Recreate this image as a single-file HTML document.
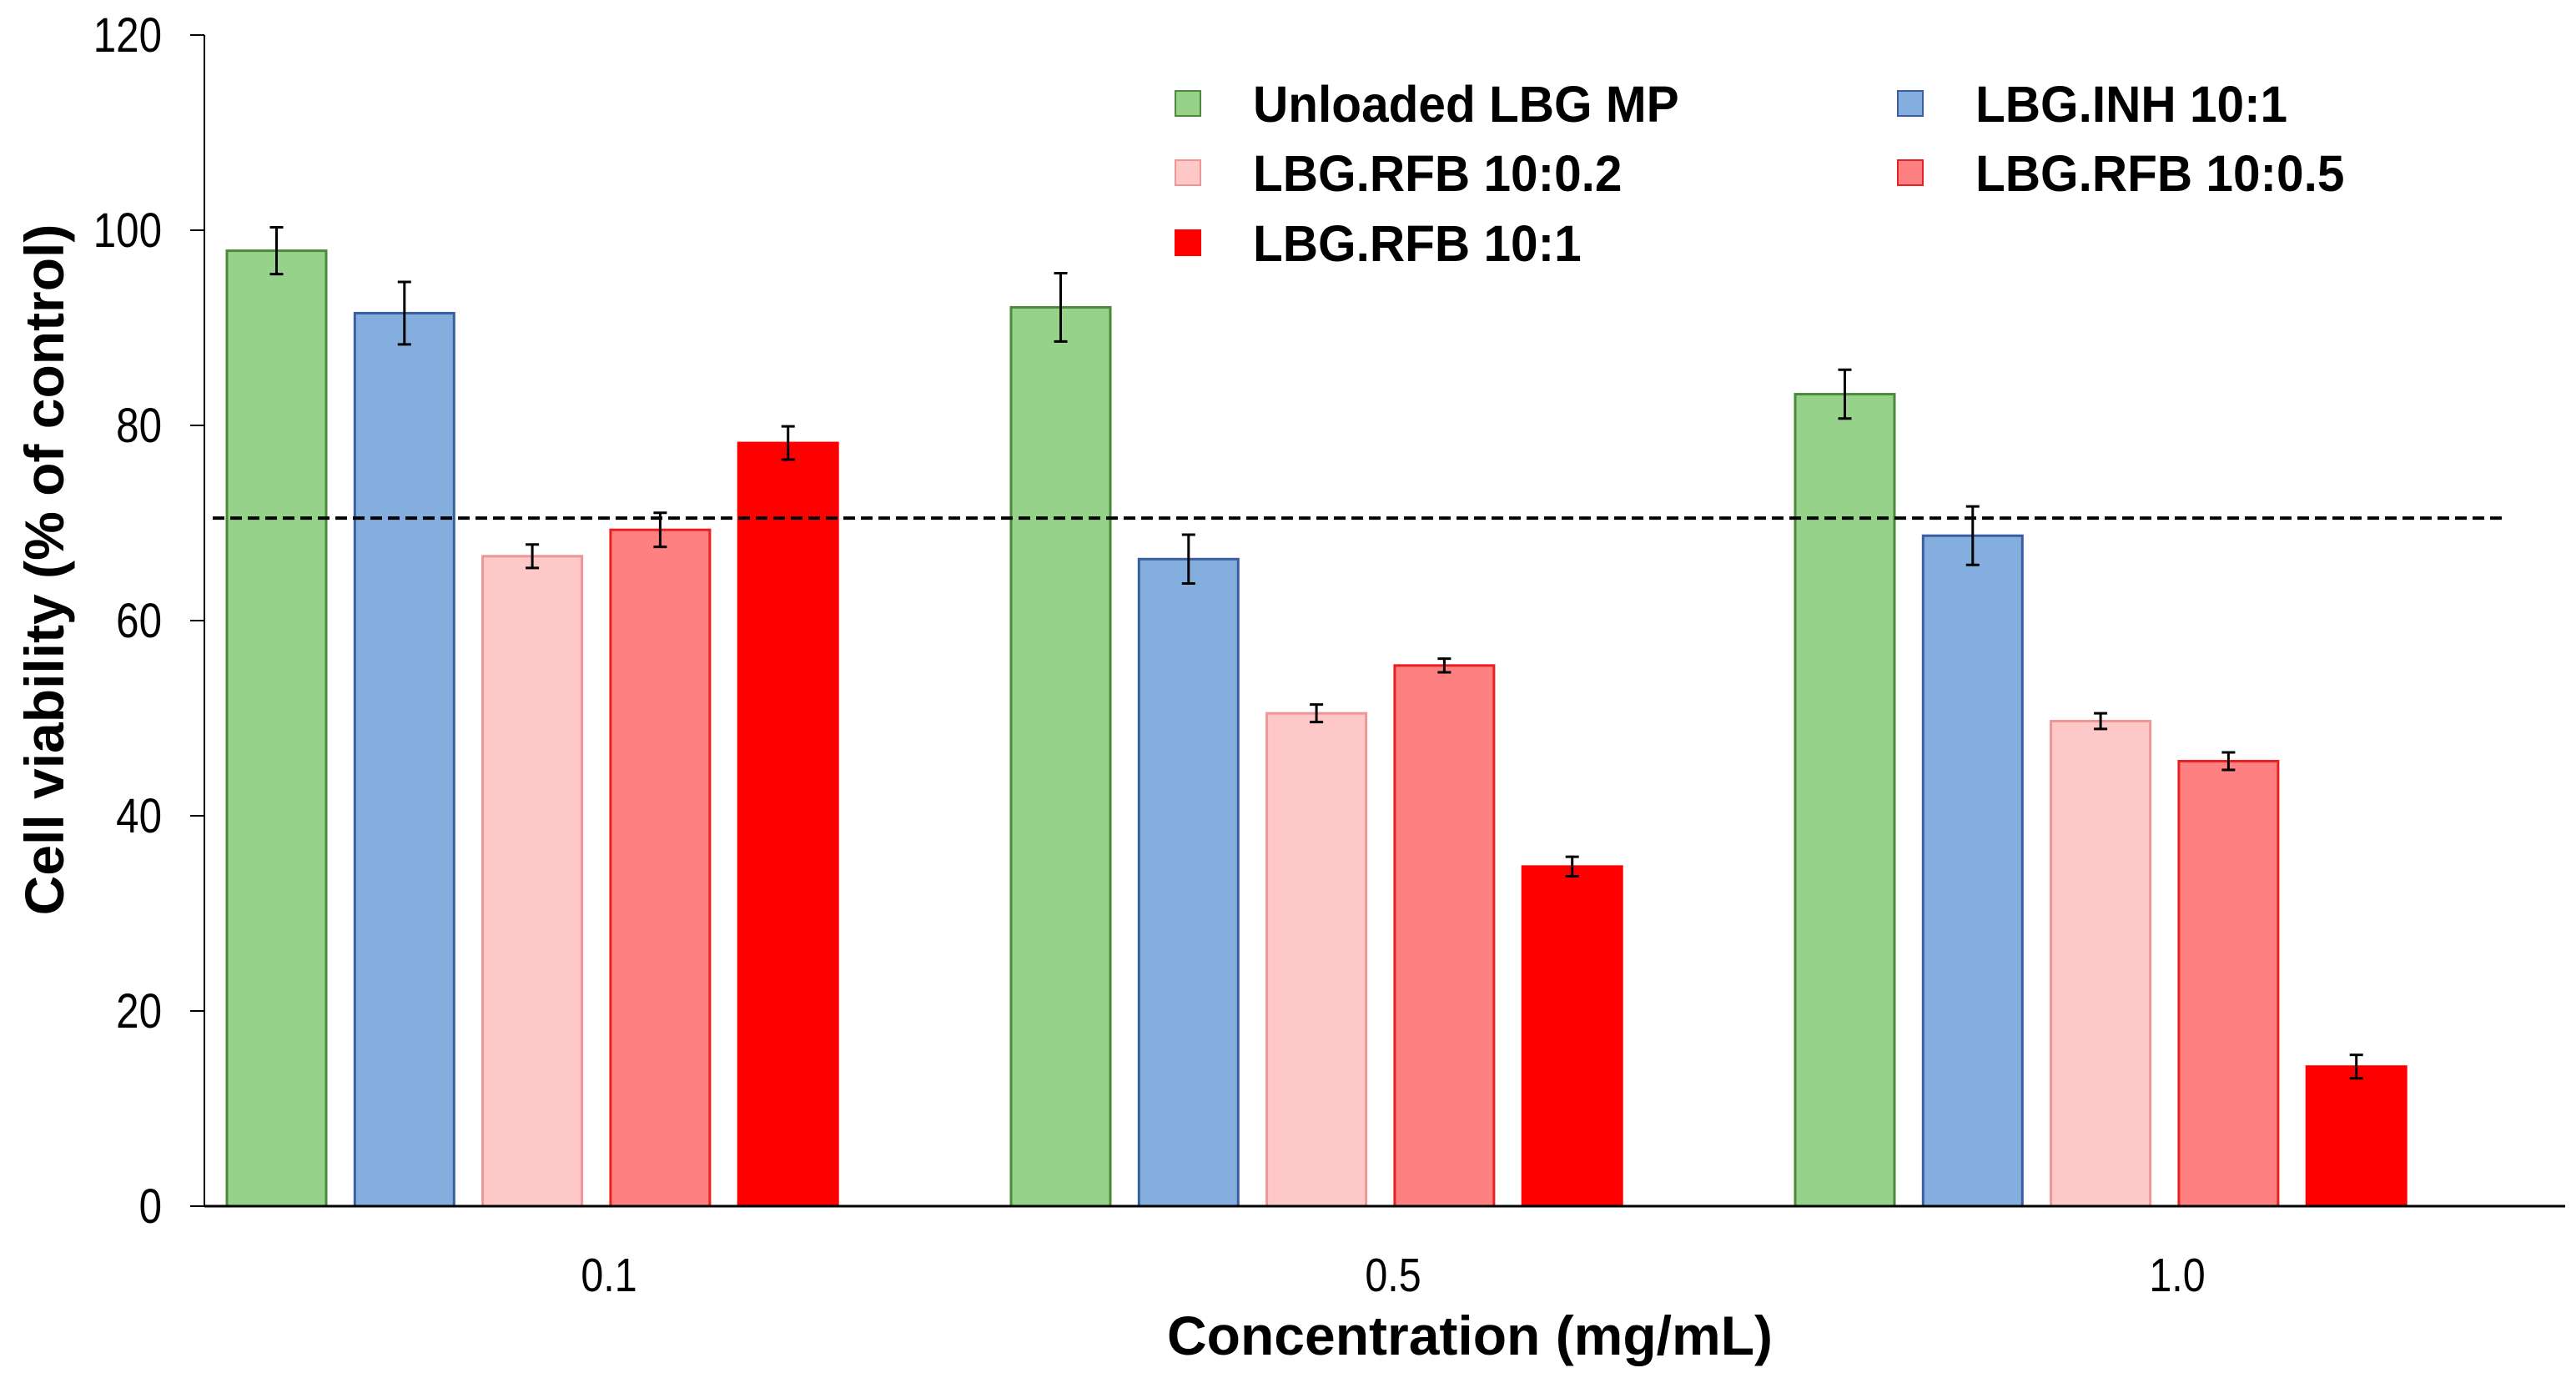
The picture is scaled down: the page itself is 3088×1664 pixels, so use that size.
<!DOCTYPE html>
<html><head><meta charset="utf-8"><style>
html,body{margin:0;padding:0;background:#fff;}
svg{display:block;font-family:"Liberation Sans",Arial,sans-serif;}
</style></head><body>
<svg id="chart" width="3088" height="1664" viewBox="0 0 3088 1664" xmlns="http://www.w3.org/2000/svg">
<g id="grid"></g>
<g id="bars"></g>
<g id="axes"></g>
<g id="legend"></g>
<text x="0" y="0" transform="translate(76,683) rotate(-90)" text-anchor="middle" font-size="66" font-weight="bold">Cell viability (% of control)</text>
<text x="1762" y="1624" text-anchor="middle" font-size="66" font-weight="bold">Concentration (mg/mL)</text>
</svg>
<script>
const categories = ["0.1", "0.5", "1.0"];
const seriesNames = ["Unloaded LBG MP", "LBG.INH 10:1", "LBG.RFB 10:0.2", "LBG.RFB 10:0.5", "LBG.RFB 10:1"];
const unloaded = [97.9, 92.1, 83.2];
const inh = [91.5, 66.3, 68.7];
const rfb02 = [66.6, 50.5, 49.7];
const rfb05 = [69.3, 55.4, 45.6];
const rfb1 = [78.2, 34.8, 14.3];
const errUnloaded = [2.4, 3.5, 2.5];
const errInh = [3.2, 2.5, 3.0];
const errRfb02 = [1.2, 0.9, 0.8];
const errRfb05 = [1.75, 0.7, 0.9];
const errRfb1 = [1.7, 1.0, 1.2];
const threshold = [70.5];
const yTicks = [0, 20, 40, 60, 80, 100, 120];

const NS = "http://www.w3.org/2000/svg";
const values = [unloaded, inh, rfb02, rfb05, rfb1];
const errs = [errUnloaded, errInh, errRfb02, errRfb05, errRfb1];
const fills = ["#97d28a", "#84aede", "#ffc8c8", "#ff8080", "#ff0000"];
const strokes = ["#4a8a3a", "#3a5fa0", "#f09595", "#e82020", "#ff0000"];
const x0 = 245, x1 = 3075, yBase = 1446, yTop = 42, yMax = 120;
const catW = 940, catStart = 260;
function y(v) { return yBase - v / yMax * (yBase - yTop); }
function catCenter(i) { return catStart + catW * (i + 0.5); }
const barW = 119, pitch = 153.3, groupOffset = -458;
function barX(i, s) { return catCenter(i) + groupOffset + s * pitch; }
function mk(tag, attrs, parent) {
  const e = document.createElementNS(NS, tag);
  for (const k in attrs) e.setAttribute(k, attrs[k]);
  parent.appendChild(e);
  return e;
}
const gBars = document.getElementById("bars");
const gAxes = document.getElementById("axes");
const gLeg = document.getElementById("legend");

values.forEach((arr, s) => {
  arr.forEach((v, i) => {
    const r = mk("rect", {x: barX(i, s), y: y(v), width: barW, height: yBase - y(v), fill: fills[s], stroke: strokes[s], "stroke-width": 3}, gBars);
    
    
    const cx = barX(i, s) + barW / 2, e = errs[s][i];
    const eb = mk("path", {d: `M${cx},${y(v + e)}V${y(v - e)}M${cx - 8},${y(v + e)}H${cx + 8}M${cx - 8},${y(v - e)}H${cx + 8}`, stroke: "#000", "stroke-width": 3, fill: "none"}, gBars);
    
    
  });
});

const th = mk("line", {x1: x0 + 10, x2: 3005, y1: y(threshold[0]), y2: y(threshold[0]), stroke: "#000", "stroke-width": 4, "stroke-dasharray": "14 7"}, gAxes);



const ya = mk("line", {x1: x0, x2: x0, y1: yTop, y2: yBase, stroke: "#000", "stroke-width": 2}, gAxes);


const xa = mk("line", {x1: x0, x2: x1, y1: yBase, y2: yBase, stroke: "#000", "stroke-width": 3}, gAxes);



yTicks.forEach(t => {
  const tk = mk("line", {x1: x0 - 17, x2: x0, y1: y(t), y2: y(t), stroke: "#000", "stroke-width": 2}, gAxes);
  
  
  const tl = mk("text", {x: 194, y: y(t) + 20, "text-anchor": "end", "font-size": 58, transform: `translate(194,0) scale(0.85,1) translate(-194,0)`}, gAxes);
  tl.textContent = t;
  
  
});
categories.forEach((c, i) => {
  const cx = catCenter(i);
  const tl = mk("text", {x: cx, y: 1548, "text-anchor": "middle", "font-size": 57, transform: `translate(${cx},0) scale(0.85,1) translate(${-cx},0)`}, gAxes);
  tl.textContent = c;
  
  
});

const legX = [1409, 2275], legY = [124, 207, 291];
seriesNames.forEach((n, s) => {
  const col = s === 4 ? 0 : s % 2, row = Math.floor(s / 2);
  const mx = legX[col], my = legY[row];
  const m = mk("rect", {x: mx, y: my - 15, width: 30, height: 30, fill: fills[s], stroke: strokes[s], "stroke-width": 2}, gLeg);
  
  
  const t = mk("text", {x: mx + 93, y: my + 22, "font-size": 61, "font-weight": "bold", transform: `translate(${mx + 93},0) scale(0.96,1) translate(${-(mx + 93)},0)`}, gLeg);
  t.textContent = n;
  
  
});
</script>
</body></html>
